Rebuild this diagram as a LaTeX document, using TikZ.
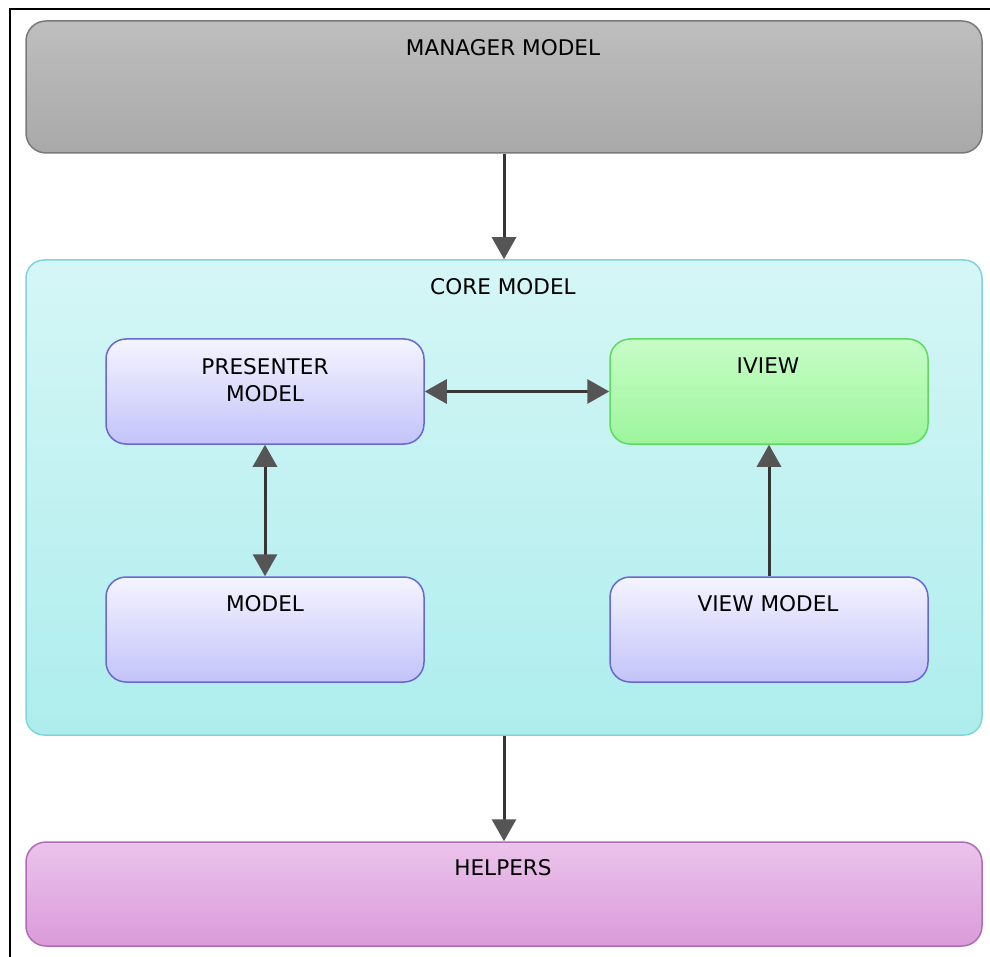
\documentclass[tikz,border=0pt]{standalone}
\usepackage{fontspec}
\setmainfont{DejaVu Sans}
\usetikzlibrary{arrows.meta}

\definecolor{mgrTop}{HTML}{BEBEBE}
\definecolor{mgrBot}{HTML}{A9A9A9}
\definecolor{mgrLine}{HTML}{7A7A7A}
\definecolor{coreTop}{HTML}{D5F6F6}
\definecolor{coreBot}{HTML}{AEEDED}
\definecolor{coreLine}{HTML}{80D6D6}
\definecolor{purTop}{HTML}{F4F4FF}
\definecolor{purBot}{HTML}{C3C3FA}
\definecolor{purLine}{HTML}{6868D2}
\definecolor{grnTop}{HTML}{C7FDC7}
\definecolor{grnBot}{HTML}{9CF59C}
\definecolor{grnLine}{HTML}{5FD95F}
\definecolor{pnkTop}{HTML}{EBC3EB}
\definecolor{pnkBot}{HTML}{DA9BDA}
\definecolor{pnkLine}{HTML}{AE6CB6}
\definecolor{arrLine}{HTML}{363636}
\definecolor{arrHead}{HTML}{555555}

\tikzset{
  box/.style={rectangle, rounded corners=20pt, line width=1.5pt, inner sep=0pt},
  graybox/.style={box, draw=mgrLine, top color=mgrTop, bottom color=mgrBot},
  corebox/.style={box, rounded corners=18pt, draw=coreLine, top color=coreTop, bottom color=coreBot},
  purbox/.style={box, draw=purLine, top color=purTop, bottom color=purBot},
  grnbox/.style={box, draw=grnLine, top color=grnTop, bottom color=grnBot},
  pnkbox/.style={box, draw=pnkLine, top color=pnkTop, bottom color=pnkBot},
  lbl/.style={inner sep=0pt, font=\fontsize{21.6}{27}\selectfont, align=center, text=black},
  headtip/.tip={Triangle[width=24pt,length=22pt,fill=arrHead,color=arrHead]},
  arr/.style={line width=3pt, draw=arrLine, -headtip},
  darr/.style={line width=3pt, draw=arrLine, headtip-headtip}
}

\begin{document}
\begin{tikzpicture}[x=1pt, y=-1pt]
  \useasboundingbox (0,0) rectangle (990,957);

  % outer frame (top and left edges)
  \draw[line width=2.5pt, black] (10,957) -- (10,9) -- (990,9);

  % main layers
  \node[graybox, minimum width=956pt, minimum height=132pt] (mgr) at (504,87) {};
  \node[corebox, minimum width=956pt, minimum height=475pt] (core) at (504,497.5) {};
  \node[pnkbox, minimum width=956pt, minimum height=104pt] (help) at (504,894) {};

  % inner components
  \node[purbox, minimum width=318pt, minimum height=105pt] (pres) at (265,391.5) {};
  \node[grnbox, minimum width=318pt, minimum height=105pt] (iview) at (769,391.5) {};
  \node[purbox, minimum width=318pt, minimum height=105pt] (model) at (265,629.5) {};
  \node[purbox, minimum width=318pt, minimum height=105pt] (vmodel) at (769,629.5) {};

  % labels
  \node[lbl] (mgrT) at (503,48) {MANAGER MODEL};
  \node[lbl] (coreT) at (503,287) {CORE MODEL};
  \node[lbl] (presT) at (265,380) {PRESENTER\\MODEL};
  \node[lbl] (iviewT) at (768,366) {IVIEW};
  \node[lbl] (modelT) at (265,604) {MODEL};
  \node[lbl] (vmodelT) at (768,604) {VIEW MODEL};
  \node[lbl] (helpT) at (503,868) {HELPERS};

  % connectors
  \draw[arr] (mgr.south) -- (core.north);
  \draw[arr] (core.south) -- (help.north);
  \draw[darr] (pres.east) -- (iview.west);
  \draw[darr] (pres.south) -- (model.north);
  \draw[arr] (vmodel.north) -- (iview.south);
\end{tikzpicture}
\end{document}
